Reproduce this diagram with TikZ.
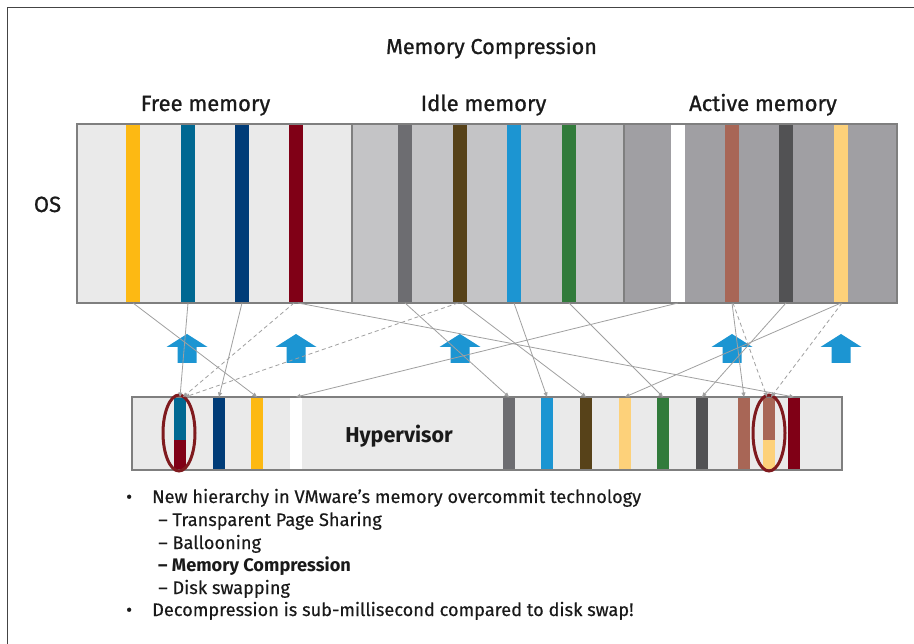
\documentclass[tikz,border=0pt]{standalone}
\usepackage{fontspec}
\setmainfont{Fira Sans}
\newfontfamily\medfont[FakeBold=0.9]{Fira Sans}
\newfontfamily\bodyfont[FakeBold=0.3]{Fira Sans}
\usetikzlibrary{arrows.meta,shapes.geometric}
\definecolor{freebg}{HTML}{EAEAEA}
\definecolor{idlebg}{HTML}{C4C4C6}
\definecolor{activebg}{HTML}{A09FA3}
\definecolor{barborder}{HTML}{7F7F7F}
\definecolor{cyel}{HTML}{FDB913}
\definecolor{ctea}{HTML}{006892}
\definecolor{cnav}{HTML}{003C78}
\definecolor{cred}{HTML}{800016}
\definecolor{cgry}{HTML}{6D6D71}
\definecolor{cbrn}{HTML}{574219}
\definecolor{cblu}{HTML}{1C95D2}
\definecolor{cgrn}{HTML}{317B3B}
\definecolor{crst}{HTML}{A86656}
\definecolor{cdgy}{HTML}{525254}
\definecolor{clye}{HTML}{FDD17A}
\definecolor{ellcol}{HTML}{7F1A1E}
\definecolor{conncol}{HTML}{A0A0A0}
\definecolor{framecol}{HTML}{444444}
\definecolor{txtcol}{HTML}{1A1A1A}
\begin{document}
\begin{tikzpicture}[x=1pt,y=-1pt,
  section/.style={inner sep=0pt,outer sep=0pt,minimum height=178.5pt,draw=none},
  osstripe/.style={inner sep=0pt,outer sep=0pt,minimum width=14pt,minimum height=178.5pt,draw=none},
  hstripe/.style={inner sep=0pt,outer sep=0pt,minimum width=12pt,minimum height=73pt,draw=none},
  barline/.style={draw=barborder,line width=2pt},
  conn/.style={draw=conncol,line width=0.8pt,-{Triangle[length=4.5pt,width=4pt]}},
  dconn/.style={conn,dash pattern=on 4pt off 3pt},
  ring/.style={ellipse,draw=ellcol,line width=3pt,inner sep=0pt,minimum width=32pt,minimum height=76pt},
  lbl/.style={text=txtcol,inner sep=0pt,anchor=base},
  head/.style={lbl,font=\medfont\fontsize{22}{26}\selectfont},
  bul/.style={text=txtcol,inner sep=0pt,anchor=base west,font=\bodyfont\fontsize{18.2}{21}\selectfont},
  uparrow/.pic={\fill[cblu] (0,0) -- (20.5,13) -- (9.5,13) -- (9.5,29) -- (-9.5,29) -- (-9.5,13) -- (-20.5,13) -- cycle;}
]
\useasboundingbox (0,0) rectangle (914,644);
\fill[white] (0,0) rectangle (914,644);
\draw[framecol,line width=1.5pt] (7.5,644) -- (7.5,7.5) -- (914,7.5);

% titles
\node[lbl,font=\medfont\fontsize{21.6}{25}\selectfont] (title) at (491.5,54) {Memory Compression};
\node[head] (lfree) at (205.5,111) {Free memory};
\node[head] (lidle) at (483.5,111) {Idle memory};
\node[head] (lact) at (763,111) {Active memory};
\node[head] (los) at (47.5,212) {OS};

% OS sections
\node[section,fill=freebg,minimum width=274.5pt] (free) at (214.25,213.75) {};
\node[section,fill=idlebg,minimum width=272.5pt] (idle) at (487.75,213.75) {};
\node[section,fill=activebg,minimum width=272.5pt] (active) at (760.25,213.75) {};

% OS stripes
\node[osstripe,fill=cyel] (oyel) at (133,213.75) {};
\node[osstripe,fill=ctea] (otea) at (188,213.75) {};
\node[osstripe,fill=cnav] (onav) at (242,213.75) {};
\node[osstripe,fill=cred] (ored) at (296,213.75) {};
\node[osstripe,fill=cgry] (ogry) at (405,213.75) {};
\node[osstripe,fill=cbrn] (obrn) at (460,213.75) {};
\node[osstripe,fill=cblu] (oblu) at (514,213.75) {};
\node[osstripe,fill=cgrn] (ogrn) at (569,213.75) {};
\node[osstripe,fill=white] (owht) at (678,213.75) {};
\node[osstripe,fill=crst] (orst) at (732,213.75) {};
\node[osstripe,fill=cdgy] (odgy) at (786,213.75) {};
\node[osstripe,fill=clye] (olye) at (841,213.75) {};

\draw[barline] (free.north west) rectangle (active.south east);
\draw[barline] (free.north east) -- (free.south east);
\draw[barline] (idle.north east) -- (idle.south east);

% Hypervisor bar
\node[inner sep=0pt,outer sep=0pt,minimum width=710pt,minimum height=73pt,fill=freebg] (hyp) at (487,433.5) {};
\node[hstripe,fill=ctea,minimum height=43pt] (c1top) at (180,418.5) {};
\node[hstripe,fill=cred,minimum height=30pt] (c1bot) at (180,455) {};
\node[hstripe,fill=cnav] (hnav) at (219,433.5) {};
\node[hstripe,fill=cyel] (hyel) at (257,433.5) {};
\node[hstripe,fill=white] (hwht) at (296,433.5) {};
\node[hstripe,fill=cgry] (hgry) at (509,433.5) {};
\node[hstripe,fill=cblu] (hblu) at (547,433.5) {};
\node[hstripe,fill=cbrn] (hbrn) at (586,433.5) {};
\node[hstripe,fill=clye] (hlye) at (625,433.5) {};
\node[hstripe,fill=cgrn] (hgrn) at (663,433.5) {};
\node[hstripe,fill=cdgy] (hdgy) at (702,433.5) {};
\node[hstripe,fill=crst] (hrst) at (744,433.5) {};
\node[hstripe,fill=crst,minimum height=43pt] (c2top) at (769,418.5) {};
\node[hstripe,fill=clye,minimum height=30pt] (c2bot) at (769,455) {};
\node[hstripe,fill=cred] (hred) at (794,433.5) {};
\draw[barline] (hyp.north west) rectangle (hyp.south east);
\node[lbl,font=\fontsize{21.5}{26}\selectfont\bfseries] (lhyp) at (399,443) {Hypervisor};

\node[ring] (e1) at (179,433) {};
\node[ring] (e2) at (769,433) {};

% blue arrows
\pic at (187,334) {uparrow};
\pic at (296,334) {uparrow};
\pic at (460,334) {uparrow};
\pic at (732,334) {uparrow};
\pic at (841,334) {uparrow};

% connectors
\draw[conn] (oyel.south) -- (hyel.north);
\draw[conn] (otea.south) -- (c1top.north);
\draw[conn] (onav.south) -- (hnav.north);
\draw[dconn] ([xshift=-2pt]ored.south) -- ([xshift=3pt]c1top.north);
\draw[conn] ([xshift=2pt]ored.south) -- (hred.north);
\draw[conn] (ogry.south) -- (hgry.north);
\draw[dconn] ([xshift=-2pt]obrn.south) -- ([xshift=5pt]c1top.north);
\draw[conn] ([xshift=2pt]obrn.south) -- (hbrn.north);
\draw[conn] (oblu.south) -- (hblu.north);
\draw[conn] (ogrn.south) -- (hgrn.north);
\draw[conn] (owht.south) -- (hwht.north);
\draw[conn] (orst.south) -- (hrst.north);
\draw[dconn] ([xshift=1pt]orst.south) -- ([xshift=-2pt]c2top.north);
\draw[conn] (odgy.south) -- (hdgy.north);
\draw[conn] (olye.south) -- (hlye.north);
\draw[dconn] ([xshift=1pt]olye.south) -- ([xshift=2pt]c2top.north);

% bullet text
\node[bul] (b1d) at (126,503) {•};
\node[bul] (b1) at (152,503) {New hierarchy in VMware’s memory overcommit technology};
\node[bul] (s1) at (158,526) {– Transparent Page Sharing};
\node[bul] (s2) at (158,549) {– Ballooning};
\node[bul,font=\fontsize{18.2}{21}\selectfont\bfseries] (s3) at (158,571) {– Memory Compression};
\node[bul] (s4) at (158,594) {– Disk swapping};
\node[bul] (b2d) at (126,616) {•};
\node[bul] (b2) at (152,616) {Decompression is sub-millisecond compared to disk swap!};
\end{tikzpicture}
\end{document}
